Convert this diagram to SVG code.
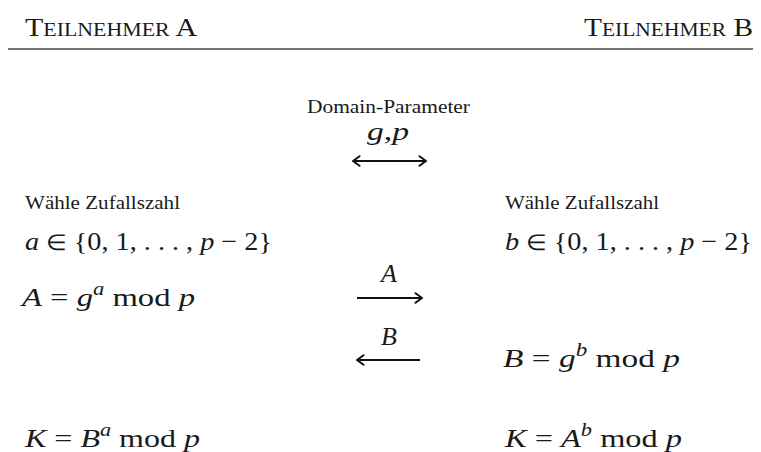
<svg xmlns="http://www.w3.org/2000/svg" width="761" height="452" viewBox="0 0 761 452">
<defs>
<style>
text{font-family:"Liberation Serif","Times New Roman",serif;fill:#1a1a1a}
.hd{font-size:26px}
.sc{font-size:19px}
.sm{font-size:18px}
.m{font-size:26px}
.i{font-style:italic}
.el{font-size:22px}
.sup{font-size:18px;font-style:italic}
.ar{stroke:#111;stroke-width:2;fill:none}
</style>
<marker id="hd" viewBox="0 0 12 12" refX="11" refY="6" markerWidth="12" markerHeight="12" markerUnits="userSpaceOnUse" orient="auto-start-reverse">
<path d="M4.5,1.2 L11,6 L4.5,10.8" fill="none" stroke="#111" stroke-width="2" stroke-linecap="round" stroke-linejoin="round"/>
</marker>
</defs>
<rect width="761" height="452" fill="#fff"/>
<g id="header">
<line x1="8" y1="49" x2="753" y2="49" stroke="#444" stroke-width="1.4"/>
<text x="25" y="36" class="hd" textLength="172" lengthAdjust="spacingAndGlyphs">T<tspan class="sc">EILNEHMER</tspan> A</text>
<text x="584" y="36" class="hd" textLength="169" lengthAdjust="spacingAndGlyphs">T<tspan class="sc">EILNEHMER</tspan> B</text>
</g>
<g id="domain">
<text x="307" y="113" class="sm" textLength="163" lengthAdjust="spacingAndGlyphs">Domain-Parameter</text>
<text x="367" y="140" class="m i" textLength="42" lengthAdjust="spacingAndGlyphs">g,p</text>
</g>
<g id="partyA">
<text x="25" y="209" class="sm" textLength="155" lengthAdjust="spacingAndGlyphs">Wähle Zufallszahl</text>
<text x="25" y="250" class="m" textLength="247" lengthAdjust="spacingAndGlyphs"><tspan class="i">a</tspan> <tspan class="el">∈</tspan> {0, 1, . . . , <tspan class="i">p</tspan> − 2}</text>
<text x="22" y="306" class="m" textLength="173" lengthAdjust="spacingAndGlyphs"><tspan class="i">A</tspan> = <tspan class="i">g</tspan><tspan class="sup" dy="-11">a</tspan><tspan dy="11"> mod </tspan><tspan class="i">p</tspan></text>
<text x="25" y="447" class="m" textLength="175" lengthAdjust="spacingAndGlyphs"><tspan class="i">K</tspan> = <tspan class="i">B</tspan><tspan class="sup" dy="-11">a</tspan><tspan dy="11"> mod </tspan><tspan class="i">p</tspan></text>
</g>
<g id="partyB">
<text x="505" y="209" class="sm" textLength="154" lengthAdjust="spacingAndGlyphs">Wähle Zufallszahl</text>
<text x="505" y="250" class="m" textLength="247" lengthAdjust="spacingAndGlyphs"><tspan class="i">b</tspan> <tspan class="el">∈</tspan> {0, 1, . . . , <tspan class="i">p</tspan> − 2}</text>
<text x="503" y="367" class="m" textLength="177" lengthAdjust="spacingAndGlyphs"><tspan class="i">B</tspan> = <tspan class="i">g</tspan><tspan class="sup" dy="-11">b</tspan><tspan dy="11"> mod </tspan><tspan class="i">p</tspan></text>
<text x="505" y="447" class="m" textLength="177" lengthAdjust="spacingAndGlyphs"><tspan class="i">K</tspan> = <tspan class="i">A</tspan><tspan class="sup" dy="-11">b</tspan><tspan dy="11"> mod </tspan><tspan class="i">p</tspan></text>
</g>
<g id="connectors">
<line x1="353" y1="161" x2="426" y2="161" class="ar" marker-start="url(#hd)" marker-end="url(#hd)"/>
<line x1="357" y1="298" x2="422" y2="298" class="ar" marker-end="url(#hd)"/>
<text x="389" y="282" class="m i" text-anchor="middle">A</text>
<line x1="420" y1="360" x2="357" y2="360" class="ar" marker-end="url(#hd)"/>
<text x="389" y="345" class="m i" text-anchor="middle">B</text>
</g>
</svg>
